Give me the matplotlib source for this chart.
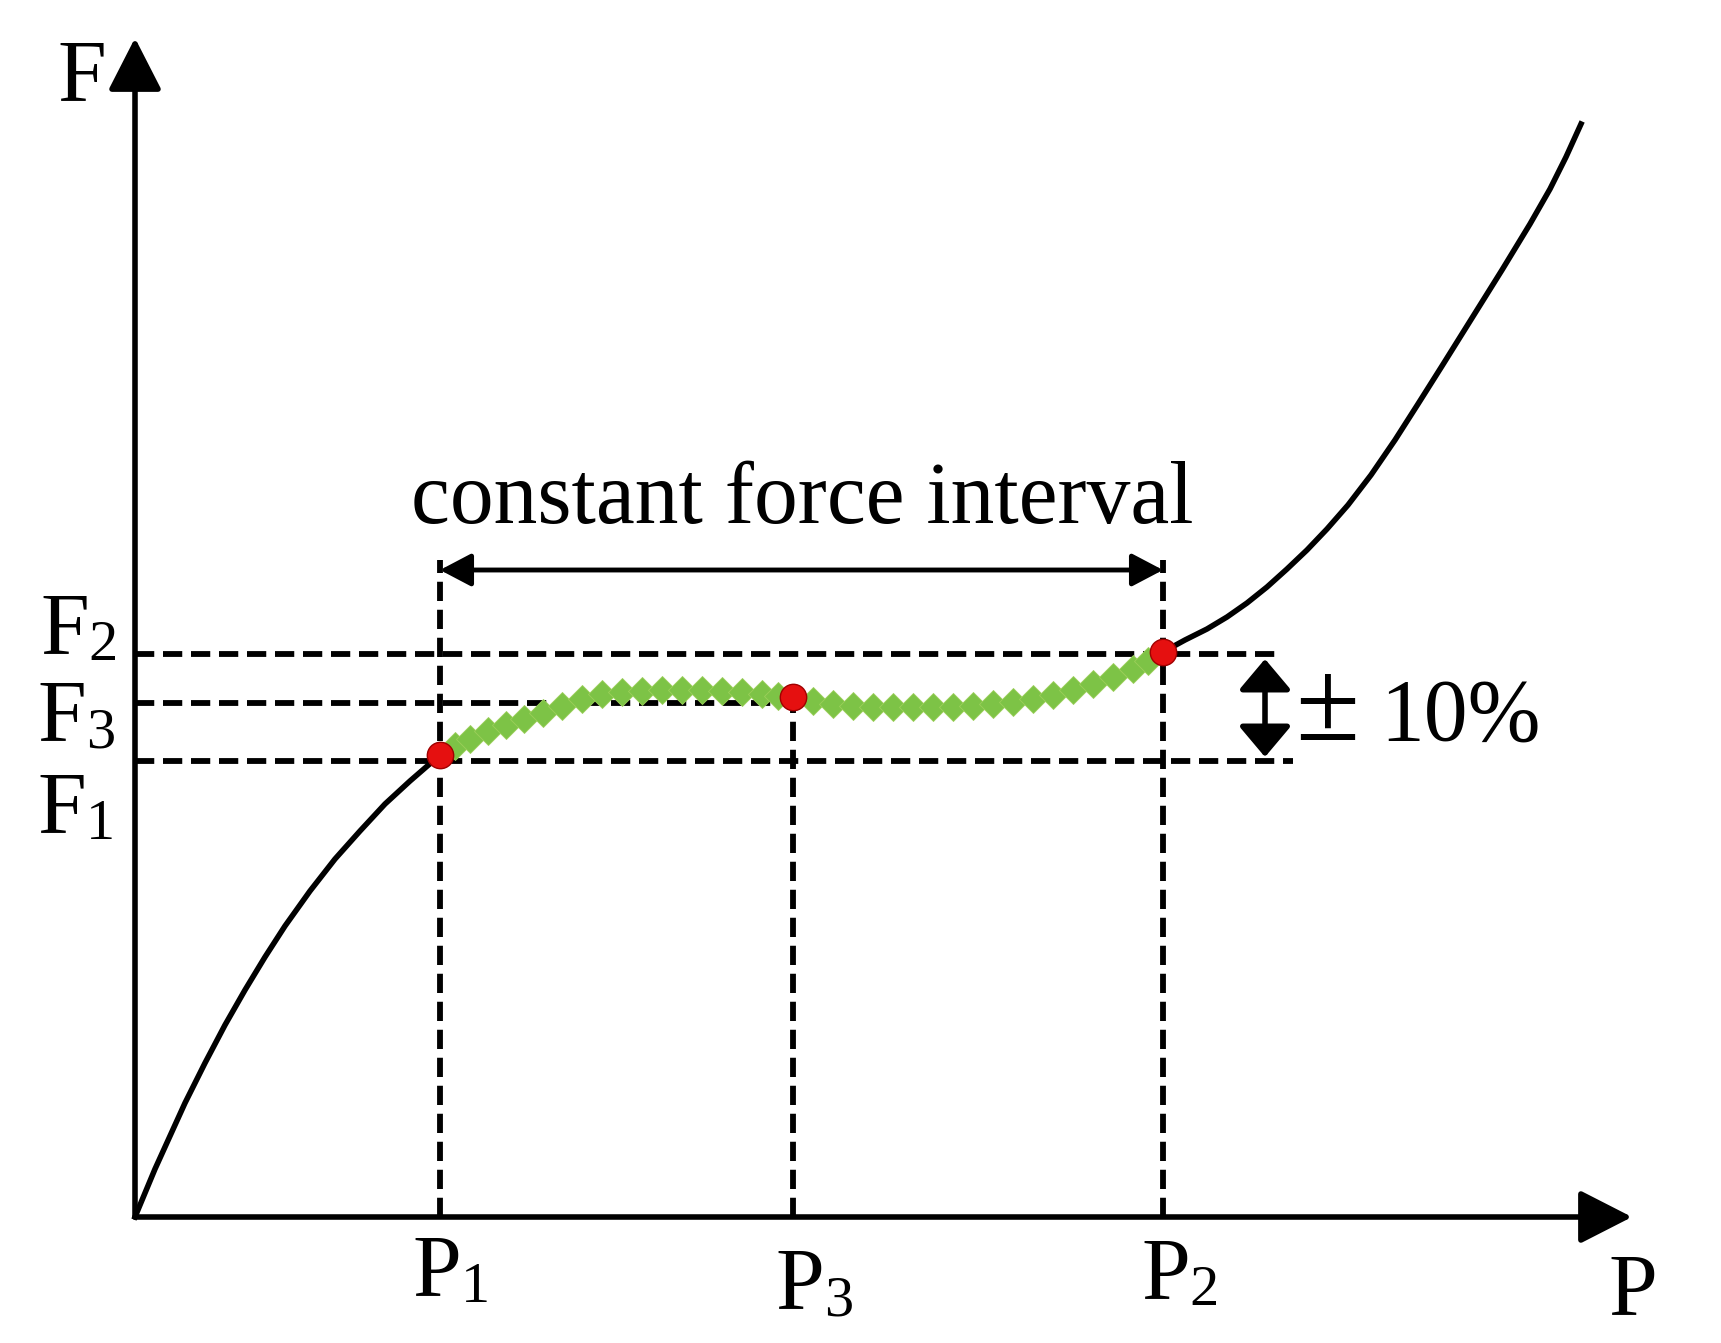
import matplotlib.pyplot as plt

plt.rcParams['font.family'] = ['Liberation Serif', 'DejaVu Serif']

# key points on the F-P curve (arbitrary units)
P1, F1_pt = 3.05, 4.62
P3, F3_pt = 6.58, 5.20
P2, F2_pt = 10.28, 5.65

# reference force levels (dashed lines)
F1_level = 4.56
F3_level = 5.14
F2_level = 5.63

# black curve below P1 and above P2
lower_P = [0.0, 0.10, 0.20, 0.35, 0.50, 0.70, 0.90, 1.10, 1.30, 1.50, 1.75, 2.00,
           2.25, 2.50, 2.75]
lower_F = [0.0, 0.24, 0.48, 0.81, 1.14, 1.54, 1.92, 2.27, 2.60, 2.91, 3.26, 3.58,
           3.86, 4.13, 4.36]
upper_P = [10.50, 10.72, 10.92, 11.12, 11.32, 11.52, 11.72, 11.92, 12.13, 12.36,
           12.60, 12.83, 13.07, 13.37, 13.67, 13.95, 14.15, 14.31, 14.46]
upper_F = [5.77, 5.88, 6.00, 6.14, 6.30, 6.48, 6.67, 6.88, 7.12, 7.42,
           7.77, 8.13, 8.51, 8.99, 9.47, 9.93, 10.28, 10.60, 10.93]

# green markers of the constant force interval
green_P = [3.20, 3.35, 3.53, 3.71, 3.89, 4.08, 4.27, 4.47, 4.67, 4.87, 5.07, 5.27,
           5.47, 5.67, 5.87, 6.07, 6.27, 6.43,
           6.78, 6.98, 7.18, 7.38, 7.58, 7.78, 7.98, 8.18, 8.38, 8.58, 8.78, 8.98,
           9.18, 9.38, 9.58, 9.78, 9.98, 10.13]
green_F = [4.71, 4.78, 4.86, 4.92, 4.98, 5.04, 5.11, 5.18, 5.23, 5.25, 5.26, 5.27,
           5.27, 5.27, 5.26, 5.25, 5.23, 5.21,
           5.16, 5.13, 5.11, 5.10, 5.10, 5.10, 5.10, 5.10, 5.11, 5.13, 5.15, 5.18,
           5.22, 5.27, 5.33, 5.40, 5.48, 5.56]

P_axis_end = 14.97
F_axis_end = 11.79
arrow_F = 6.47       # level of the "constant force interval" arrow
vline_top = 6.57     # top of the P1 / P2 dashed verticals
hline_right = 11.44  # right end of F2 dashed line
hline_right_F1 = 11.58
tol_P = 11.30        # x of the +-10% arrow

fig = plt.figure(figsize=(17.21, 13.43), dpi=100)
ax = fig.add_axes([0, 0, 1, 1])
ax.set_xlim(-1.35, 15.86)
ax.set_ylim(-1.26, 12.17)
ax.axis('off')

# axes with arrow heads
axis_arrow = dict(arrowstyle='-|>,head_length=0.45,head_width=0.23', mutation_scale=72,
                  lw=4, color='black', shrinkA=0, shrinkB=0)
ax.annotate('', xy=(0, F_axis_end), xytext=(0, 0), arrowprops=axis_arrow)
ax.annotate('', xy=(P_axis_end, 0), xytext=(0, 0), arrowprops=axis_arrow)

# dashed guide lines
dash = dict(color='black', lw=4.2, linestyle=(0, (3.3, 1.5)), zorder=2)
ax.plot([0, hline_right], [F2_level, F2_level], **dash)
ax.plot([0, P3], [F3_level, F3_level], **dash)
ax.plot([0, hline_right_F1], [F1_level, F1_level], **dash)
ax.plot([P1, P1], [0, vline_top], **dash)
ax.plot([P3, P3], [0, F3_pt], **dash)
ax.plot([P2, P2], [0, vline_top], **dash)

# black F-P curve
curve_P = lower_P + [P1] + green_P[:18] + [P3] + green_P[18:] + [P2] + upper_P
curve_F = lower_F + [F1_pt] + green_F[:18] + [F3_pt] + green_F[18:] + [F2_pt] + upper_F
ax.plot(curve_P, curve_F, color='black', lw=4, zorder=3, solid_joinstyle='round')

# green constant-force markers
ax.plot(green_P, green_F, linestyle='none', marker='D', markersize=14,
        markerfacecolor='#7dc346', markeredgecolor='#9ccf5a', markeredgewidth=0.6, zorder=4)

# red key points
ax.plot([P1, P3, P2], [F1_pt, F3_pt, F2_pt], linestyle='none', marker='o', markersize=19,
        markerfacecolor='#e51010', markeredgecolor='#a00000', markeredgewidth=1, zorder=5)

# interval arrow
ax.annotate('', xy=(P2, arrow_F), xytext=(P1, arrow_F),
            arrowprops=dict(arrowstyle='<|-|>,head_length=19,head_width=10', mutation_scale=1,
                            lw=3.5, color='black', shrinkA=0, shrinkB=0))
ax.text((P1 + P2) / 2 + 0.01, 6.94, 'constant force interval', fontsize=63,
        ha='center', va='baseline')

# tolerance arrow
ax.annotate('', xy=(tol_P, 5.58), xytext=(tol_P, 4.60),
            arrowprops=dict(arrowstyle='<|-|>,head_length=19,head_width=16', mutation_scale=1,
                            lw=4, color='black', shrinkA=0, shrinkB=0))
ax.text(11.60, 4.77, '\u00b1', fontsize=84, ha='left', va='baseline')
ax.text(12.45, 4.77, '10%', fontsize=63, ha='left', va='baseline')


def sub_label(x, y, main, sub):
    t = ax.text(x, y, main, fontsize=63, ha='left', va='baseline')
    ax.annotate(sub, xy=(1, 0), xycoords=t, fontsize=42, ha='left', va='bottom')


ax.text(-0.78, 11.17, 'F', fontsize=63, ha='left', va='baseline')
ax.text(14.73, -0.97, 'P', fontsize=63, ha='left', va='baseline')
sub_label(-0.95, 5.64, 'F', '2')
sub_label(-0.98, 4.77, 'F', '3')
sub_label(-0.98, 3.85, 'F', '1')
sub_label(2.77, -0.78, 'P', '1')
sub_label(6.40, -0.91, 'P', '3')
sub_label(10.06, -0.81, 'P', '2')

fig.savefig('out.png', dpi=100)
